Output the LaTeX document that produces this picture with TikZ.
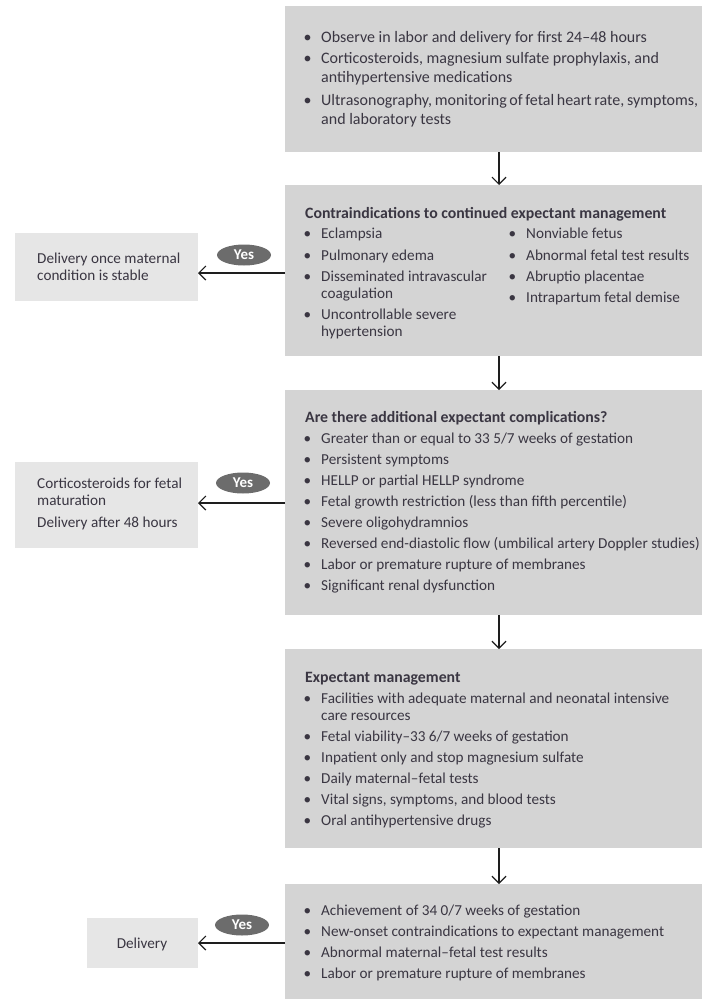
\documentclass[tikz,border=0pt]{standalone}
\usepackage{fontspec}
\setmainfont{Carlito}
\usetikzlibrary{arrows.meta,shapes.geometric}

\definecolor{boxgray}{RGB}{212,212,212}
\definecolor{sidegray}{RGB}{230,230,230}
\definecolor{yesgray}{RGB}{108,108,108}
\definecolor{ink}{RGB}{58,54,66}
\definecolor{arrowink}{RGB}{30,30,30}

% bullet with a fixed indent, and a bulleted item with hanging lines
\newcommand\bul{\makebox[19pt][l]{\hspace{1.5pt}\textbullet}}
\newcommand\bitem[1]{\parbox[t]{396pt}{\hangindent=19pt\hangafter=1\bul#1}}

\tikzset{
  mainbox/.style={fill=boxgray, inner sep=0pt, outer sep=0pt},
  sidebox/.style={fill=sidegray, inner sep=0pt, outer sep=0pt},
  yes/.style={ellipse, fill=yesgray, text=white, inner sep=0pt,
    font=\fontsize{15}{15}\selectfont\bfseries,
    minimum width=54pt, minimum height=21pt},
  txt/.style={text=ink, font=\fontsize{15.2}{17}\selectfont,
    inner sep=0pt, anchor=base west},
  bigtxt/.style={txt, font=\fontsize{16}{19}\selectfont},
  head/.style={txt, font=\fontsize{15.8}{17}\selectfont\bfseries},
  flow/.style={draw=arrowink, line width=1.2pt,
    -{Straight Barb[length=7pt,width=14pt]}}
}

\begin{document}
\begin{tikzpicture}[x=1pt,y=-1pt]
\useasboundingbox (0,0) rectangle (702,999);

% main column of boxes
\node[mainbox, minimum width=417pt, minimum height=146pt] (box1) at (493.5,79) {};
\node[mainbox, minimum width=417pt, minimum height=171pt] (box2) at (493.5,270.5) {};
\node[mainbox, minimum width=417pt, minimum height=225pt] (box3) at (493.5,502.5) {};
\node[mainbox, minimum width=417pt, minimum height=199pt] (box4) at (493.5,748.5) {};
\node[mainbox, minimum width=417pt, minimum height=116pt] (box5) at (493.5,942) {};

% outcome boxes on the left
\node[sidebox, minimum width=183pt, minimum height=68pt] (side1) at (106.5,267) {};
\node[sidebox, minimum width=183pt, minimum height=86pt] (side2) at (106.5,505) {};
\node[sidebox, minimum width=111pt, minimum height=50pt] (side3) at (142.5,943) {};

% box 1
\node[bigtxt] (t1a) at (302,42) {\bul Observe in labor and delivery for first 24–48 hours};
\node[bigtxt] (t1b) at (302,63) {\bitem{Corticosteroids, magnesium sulfate prophylaxis, and\\antihypertensive medications}};
\node[bigtxt] (t1c) at (302,105) {\bitem{Ultrasonography, monitoring of fetal heart rate, symptoms,\\and laboratory tests}};

% box 2
\node[head] (h2) at (305,218) {Contraindications to continued expectant management};
\node[txt] (t2a) at (302,238) {\bul Eclampsia};
\node[txt] (t2b) at (302,260) {\bul Pulmonary edema};
\node[txt] (t2c) at (302,281) {\bitem{Disseminated intravascular\\coagulation}};
\node[txt] (t2d) at (302,319) {\bitem{Uncontrollable severe\\hypertension}};
\node[txt] (t2e) at (507,238) {\bul Nonviable fetus};
\node[txt] (t2f) at (507,260) {\bul Abnormal fetal test results};
\node[txt] (t2g) at (507,281) {\bul Abruptio placentae};
\node[txt] (t2h) at (507,302) {\bul Intrapartum fetal demise};

% box 3
\node[head] (h3) at (305,422) {Are there additional expectant complications?};
\node[txt] (t3a) at (302,443) {\bul Greater than or equal to 33 5/7 weeks of gestation};
\node[txt] (t3b) at (302,464) {\bul Persistent symptoms};
\node[txt] (t3c) at (302,485) {\bul HELLP or partial HELLP syndrome};
\node[txt] (t3d) at (302,506) {\bul Fetal growth restriction (less than fifth percentile)};
\node[txt] (t3e) at (302,527) {\bul Severe oligohydramnios};
\node[txt] (t3f) at (302,548) {\bul Reversed end-diastolic flow (umbilical artery Doppler studies)};
\node[txt] (t3g) at (302,569) {\bul Labor or premature rupture of membranes};
\node[txt] (t3h) at (302,590) {\bul Significant renal dysfunction};

% box 4
\node[head] (h4) at (305,682) {Expectant management};
\node[txt] (t4a) at (302,703) {\bitem{Facilities with adequate maternal and neonatal intensive\\care resources}};
\node[txt] (t4b) at (302,741) {\bul Fetal viability–33 6/7 weeks of gestation};
\node[txt] (t4c) at (302,762) {\bul Inpatient only and stop magnesium sulfate};
\node[txt] (t4d) at (302,783) {\bul Daily maternal–fetal tests};
\node[txt] (t4e) at (302,804) {\bul Vital signs, symptoms, and blood tests};
\node[txt] (t4f) at (302,825) {\bul Oral antihypertensive drugs};

% box 5
\node[txt] (t5a) at (302,915) {\bul Achievement of 34 0/7 weeks of gestation};
\node[txt] (t5b) at (302,936) {\bul New-onset contraindications to expectant management};
\node[txt] (t5c) at (302,957) {\bul Abnormal maternal–fetal test results};
\node[txt] (t5d) at (302,978) {\bul Labor or premature rupture of membranes};

% outcome texts
\node[txt] (s1) at (37,263) {\parbox[t]{160pt}{Delivery once maternal\\condition is stable}};
\node[txt] (s2a) at (37,488) {\parbox[t]{160pt}{Corticosteroids for fetal\\maturation}};
\node[txt] (s2b) at (37,527) {Delivery after 48 hours};
\node[txt, anchor=base] (s3) at (142,948) {Delivery};

% connectors down the main column
\coordinate (dx) at (499,0);
\draw[flow] (box1.south -| dx) -- (box2.north -| dx);
\draw[flow] (box2.south -| dx) -- (box3.north -| dx);
\draw[flow] (box3.south -| dx) -- (box4.north -| dx);
\draw[flow] (box4.south -| dx) -- (box5.north -| dx);

% "Yes" branches to the left
\coordinate (ya) at (0,273);
\coordinate (yb) at (0,503);
\coordinate (yc) at (0,943);
\draw[flow] (box2.west |- ya) -- (side1.east |- ya);
\draw[flow] (box3.west |- yb) -- (side2.east |- yb);
\draw[flow] (box5.west |- yc) -- (side3.east |- yc);
\node[yes] (yes1) at (244,255) {Yes};
\node[yes] (yes2) at (243,483) {Yes};
\node[yes] (yes3) at (242,925) {Yes};
\end{tikzpicture}
\end{document}
